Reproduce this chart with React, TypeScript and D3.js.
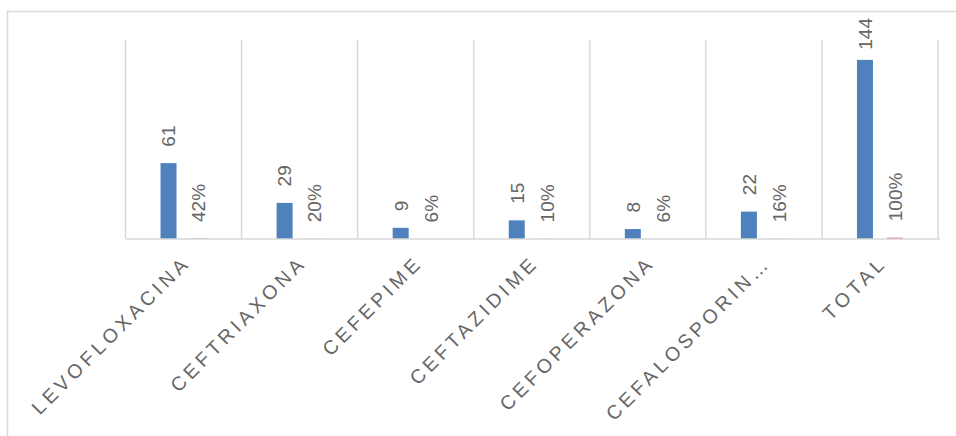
import React from "react";
import * as d3 from "d3";

// Antibiotic categories along the x axis
const categories = [
  "LEVOFLOXACINA",
  "CEFTRIAXONA",
  "CEFEPIME",
  "CEFTAZIDIME",
  "CEFOPERAZONA",
  "CEFALOSPORIN…",
  "TOTAL",
];

// Number of cases per antibiotic
const counts = [61, 29, 9, 15, 8, 22, 144];

// Share of the total, as a fraction
const shares = [0.42, 0.2, 0.06, 0.1, 0.06, 0.16, 1.0];

const seriesKeys = ["count", "share"];

const W = 956;
const H = 436;
const plot = { left: 125.5, right: 938, top: 40, bottom: 239 };

const BLUE = "#4F81BD";
const RED = "#C0504D";
const GRID = "#D9D9D9";
const TEXT = "#666666";
const FONT = "'Liberation Sans', Arial, sans-serif";

export default function App() {
  const x = d3
    .scaleBand<string>()
    .domain(categories)
    .range([plot.left, plot.right])
    .padding(0);

  const x1 = d3
    .scaleBand<string>()
    .domain(seriesKeys)
    .range([0, x.bandwidth()])
    .paddingInner(0.4667)
    .paddingOuter(1.1667);

  const y = d3.scaleLinear().domain([0, 160]).range([plot.bottom, plot.top]);

  const rows = categories.map((c, i) => ({
    cat: c,
    values: [
      { key: "count", v: counts[i], label: String(counts[i]), color: BLUE },
      {
        key: "share",
        v: shares[i],
        label: `${Math.round(shares[i] * 100)}%`,
        color: RED,
      },
    ],
  }));

  const labelSize = 19;
  const labelGap = 16.5;
  // keep rotated value labels inside the chart frame
  const labelFloor = (txt: string) => 18 + txt.length * labelSize * 0.556;

  const boundaries = categories.map((c) => x(c)!).concat([plot.right]);

  return (
    <svg
      width={W}
      height={H}
      style={{ position: "absolute", left: 0, top: 0, background: "#fff" }}
    >
      <rect x={7.5} y={11.5} width={960} height={440} fill="none" stroke={GRID} strokeWidth={1.5} />

      {boundaries.map((bx, i) => (
        <line
          key={`g${i}`}
          x1={bx}
          x2={bx}
          y1={plot.top}
          y2={plot.bottom}
          stroke={GRID}
          strokeWidth={1.5}
        />
      ))}

      {rows.map((r) =>
        r.values.map((d) => {
          const bx = x(r.cat)! + x1(d.key)!;
          const by = y(d.v);
          return (
            <rect
              key={`${r.cat}-${d.key}`}
              x={bx}
              y={by}
              width={x1.bandwidth()}
              height={plot.bottom - by}
              fill={d.color}
            />
          );
        })
      )}

      <line
        x1={plot.left}
        x2={plot.right + 2}
        y1={plot.bottom}
        y2={plot.bottom}
        stroke={GRID}
        strokeWidth={1.5}
      />

      {rows.map((r) =>
        r.values.map((d) => {
          const cx = x(r.cat)! + x1(d.key)! + x1.bandwidth() / 2;
          const ly = Math.max(y(d.v) - labelGap, labelFloor(d.label));
          return (
            <text
              key={`l-${r.cat}-${d.key}`}
              transform={`translate(${cx},${ly}) rotate(-90)`}
              dy="0.36em"
              textAnchor="start"
              fontFamily={FONT}
              fontSize={labelSize}
              fill={TEXT}
            >
              {d.label}
            </text>
          );
        })
      )}

      {categories.map((c) => {
        const cx = x(c)! + x.bandwidth() / 2;
        return (
          <text
            key={`c-${c}`}
            transform={`translate(${cx + 8},${264}) rotate(-45)`}
            textAnchor="end"
            fontFamily={FONT}
            fontSize={19.5}
            letterSpacing={4}
            fill={TEXT}
          >
            {c}
          </text>
        );
      })}
    </svg>
  );
}
